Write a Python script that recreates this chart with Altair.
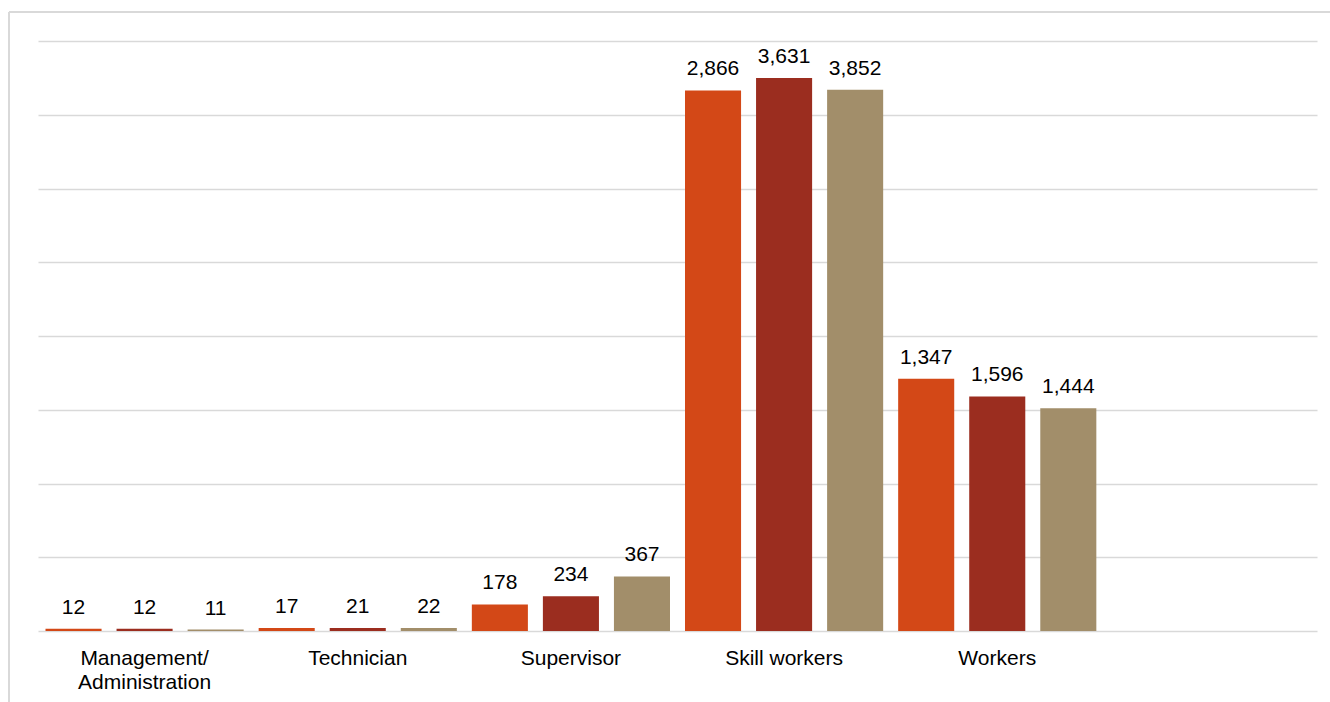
import altair as alt
import pandas as pd

categories = ["Management/ Administration", "Technician", "Supervisor", "Skill workers", "Workers"]
series = ["Series 1", "Series 2", "Series 3"]
colors = ["#D34817", "#9B2D1F", "#A28E6A"]

# value labels shown above bars
counts_s1 = [12, 17, 178, 2866, 1347]
counts_s2 = [12, 21, 234, 3631, 1596]
counts_s3 = [11, 22, 367, 3852, 1444]

# bar heights (in gridline units, 8 gridline steps)
bars_s1 = [0.03, 0.04, 0.36, 7.33, 3.42]
bars_s2 = [0.03, 0.04, 0.47, 7.50, 3.18]
bars_s3 = [0.02, 0.04, 0.74, 7.34, 3.02]

rows = []
for s, cnts, bars in zip(series, [counts_s1, counts_s2, counts_s3], [bars_s1, bars_s2, bars_s3]):
    for c, n, b in zip(categories, cnts, bars):
        rows.append({"category": c, "series": s, "count": n, "bar": b})
df = pd.DataFrame(rows)

FONT = "Liberation Sans"

x_enc = alt.X(
    "category:N",
    scale=alt.Scale(domain=categories + [" "], paddingInner=0, paddingOuter=0),
    sort=categories + [" "],
    axis=alt.Axis(
        title=None, domain=False, ticks=False, tickSize=0, labelAngle=0,
        labelFont=FONT, labelFontSize=21, labelColor="#000000", labelPadding=16,
        labelLineHeight=24, labelBaseline="top",
        labelExpr="datum.label == 'Management/ Administration' ? ['Management/', 'Administration'] : datum.label",
    ),
)
xoff_enc = alt.XOffset("series:N", scale=alt.Scale(domain=series, paddingInner=0.211, paddingOuter=0.1055))
y_enc = alt.Y(
    "bar:Q",
    scale=alt.Scale(domain=[0, 8], nice=False, zero=True),
    axis=alt.Axis(
        title=None, values=[0, 1, 2, 3, 4, 5, 6, 7, 8], labels=False, ticks=False,
        domain=False, grid=True, gridColor="#D9D9D9", gridWidth=1.5,
    ),
)

base = alt.Chart(df)

bars = base.mark_bar().encode(
    x=x_enc,
    xOffset=xoff_enc,
    y=y_enc,
    color=alt.Color("series:N", scale=alt.Scale(domain=series, range=colors), legend=None),
)

labels = base.mark_text(font=FONT, fontSize=21, color="#000000", dy=-15, baseline="alphabetic").encode(
    x=x_enc,
    xOffset=xoff_enc,
    y=y_enc,
    text=alt.Text("count:Q", format=","),
)

frame_top = alt.Chart(df).mark_rule(color="#D9D9D9", strokeWidth=2).encode(
    x=alt.value(-29), x2=alt.value(1292), y=alt.value(-29)
)
frame_left = alt.Chart(df).mark_rule(color="#D9D9D9", strokeWidth=2).encode(
    x=alt.value(-29), y=alt.value(-29), y2=alt.value(661)
)

chart = alt.layer(frame_top, frame_left, bars, labels).properties(
    width=1279,
    height=590,
    autosize=alt.AutoSizeParams(type="none"),
    padding={"left": 38, "top": 41, "right": 13, "bottom": 71},
    background="#FFFFFF",
).configure_view(stroke=None)

chart.save("out.html", embed_options={"renderer": "svg", "actions": False})
